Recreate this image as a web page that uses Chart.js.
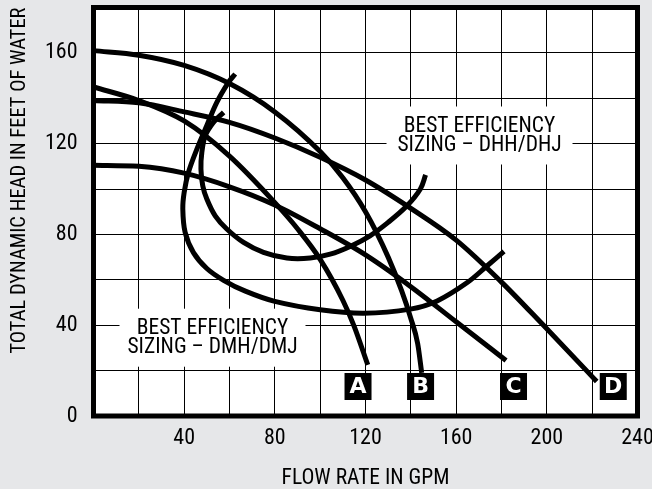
<!DOCTYPE html>
<html><head><meta charset="utf-8">
<script src="https://cdn.jsdelivr.net/npm/chart.js@4"></script>
<style>html,body{margin:0;padding:0;background:#e6e7e9;overflow:hidden;}</style>
</head><body>
<canvas id="c" width="652" height="489"></canvas>
<script>
const FONT = '"Roboto Condensed", "DejaVu Sans Condensed", sans-serif';

// Pump curves (flow in GPM, head in feet)
const flowA = [0, 20, 40, 60, 80, 90, 100, 110, 115, 121];
const headA = [145, 139, 130, 114.5, 94, 82.5, 69, 51, 39.5, 22.5];
const flowB = [0, 20, 40, 60, 80, 100, 110, 120, 130, 136, 140, 143, 144.8];
const headB = [161, 159, 154.5, 146.5, 134, 116.5, 105, 90, 70, 55, 43, 32, 19];
const flowC = [0, 20, 40, 60, 80, 100, 120, 140, 160, 182];
const headC = [110.5, 110, 107, 101, 93, 82.5, 71, 57, 41.5, 24.5];
const flowD = [0, 20, 40, 60, 80, 100, 120, 140, 160, 180, 198, 217.5, 222];
const headD = [139, 138, 134, 129.4, 122.5, 114, 104, 91.5, 77.5, 59, 40.5, 20, 15.2];

// Best efficiency sizing envelopes
const flowDMH = [62.5, 59.6, 54.4, 50, 45.6, 41.9, 40, 39.4, 40.4, 44.1, 50, 57.4, 67, 80, 100, 119.2, 139.8, 151.6, 164.9, 173.7, 181.1];
const headDMH = [150.7, 147.1, 138.2, 128, 117.6, 107.4, 98.5, 91.2, 81, 72, 65, 59.8, 55, 50.5, 46.8, 45.3, 47.1, 50.7, 58.8, 66.2, 72.5];
const flowDHH = [57.4, 52.9, 49.3, 47.8, 47.4, 48.2, 50, 53.7, 58.8, 66.2, 75, 85.3, 95.6, 104.4, 113.2, 122, 130, 138.3, 144.2, 146.5];
const headDHH = [133.8, 129.4, 123.5, 116.2, 108.8, 101.5, 95.6, 88.2, 82.4, 76.5, 72.1, 69.6, 69.6, 71.3, 74.7, 79.4, 85.3, 92.6, 100, 106.2];

// Curve tags
const tagText = ['A', 'B', 'C', 'D'];
const tagFlow = [116.7, 144.3, 185.3, 229.3];
const tagHead = [13, 13, 13, 13];

// Annotation notes
const noteLines = [['BEST EFFICIENCY', 'SIZING – DMH/DMJ'], ['BEST EFFICIENCY', 'SIZING – DHH/DHJ']];
const noteFlow = [52.5, 170.3];
const noteHead = [34.5, 123.6];

// Axes
const xMin = 0, xMax = 240, yMin = 0, yMax = 180, gridStep = 20, labelStep = 40;

const pts = (xs, ys) => xs.map((x, i) => ({x, y: ys[i]}));

function curve(xs, ys, mono) {
  return {
    data: pts(xs, ys), showLine: true, borderColor: '#000', borderWidth: 5,
    pointRadius: 0, fill: false, tension: 0.35, borderCapStyle: 'butt', borderJoinStyle: 'round',
    cubicInterpolationMode: mono ? 'monotone' : 'default'
  };
}

const decor = {
  id: 'decor',
  beforeDraw(chart) {
    const {ctx, chartArea: a} = chart;
    ctx.save();
    ctx.fillStyle = '#e6e7e9';
    ctx.fillRect(0, 0, chart.width, chart.height);
    ctx.fillStyle = '#fff';
    ctx.fillRect(a.left, a.top, a.right - a.left, a.bottom - a.top);
    ctx.restore();
  },
  beforeDatasetsDraw(chart) {
    const {ctx, scales: {x, y}} = chart;
    ctx.save();
    noteLines.forEach((lines, i) => {
      const cx = x.getPixelForValue(noteFlow[i]);
      const cy = y.getPixelForValue(noteHead[i]);
      ctx.fillStyle = '#fff';
      ctx.fillRect(cx - 93, cy - 29, 186, 58);
      ctx.fillStyle = '#000';
      ctx.font = '21.5px ' + FONT;
      ctx.textAlign = 'center';
      ctx.textBaseline = 'middle';
      ctx.fillText(lines[0], cx, cy - 9);
      ctx.fillText(lines[1], cx, cy + 10);
    });
    ctx.restore();
  },
  afterDatasetsDraw(chart) {
    const {ctx, chartArea: a, scales: {x, y}} = chart;
    ctx.save();
    ctx.strokeStyle = '#000';
    ctx.lineWidth = 5;
    ctx.strokeRect(a.left, a.top, a.right - a.left, a.bottom - a.top);
    tagText.forEach((t, i) => {
      const cx = x.getPixelForValue(tagFlow[i]);
      const cy = y.getPixelForValue(tagHead[i]);
      ctx.fillStyle = '#000';
      ctx.fillRect(cx - 13.5, cy - 13.5, 27, 27);
      ctx.fillStyle = '#fff';
      ctx.font = 'bold 22px "DejaVu Sans", sans-serif';
      ctx.textAlign = 'center';
      ctx.textBaseline = 'middle';
      ctx.fillText(t, cx, cy + 1);
    });
    ctx.restore();
  }
};

new Chart(document.getElementById('c'), {
  type: 'scatter',
  data: {
    datasets: [
      curve(flowA, headA, true),
      curve(flowB, headB, true),
      curve(flowC, headC, true),
      curve(flowD, headD, true),
      curve(flowDMH, headDMH, false),
      curve(flowDHH, headDHH, false)
    ]
  },
  options: {
    responsive: false,
    animation: false,
    devicePixelRatio: 1,
    layout: {padding: {left: 0, right: 14.5, top: 7.5, bottom: 0}},
    plugins: {legend: {display: false}, tooltip: {enabled: false}},
    scales: {
      x: {
        type: 'linear', min: xMin, max: xMax,
        border: {display: false},
        grid: {color: '#000', lineWidth: 1, drawTicks: false},
        ticks: {
          stepSize: gridStep, autoSkip: false, maxRotation: 0, padding: 9, color: '#000',
          font: {family: FONT, size: 22},
          callback: v => (v % labelStep === 0 && v > xMin) ? String(v) : ''
        },
        title: {display: true, text: 'FLOW RATE IN GPM', color: '#000',
          font: {family: FONT, size: 21.5, lineHeight: 1.0}, padding: {top: 0, bottom: 0}},
        afterFit(s) { s.height = 73; s.paddingLeft = 0; s.paddingRight = 0; }
      },
      y: {
        type: 'linear', min: yMin, max: yMax,
        border: {display: false},
        grid: {color: '#000', lineWidth: 1, drawTicks: false},
        ticks: {
          stepSize: gridStep, autoSkip: false, padding: 16, color: '#000',
          font: {family: FONT, size: 22},
          callback: v => (v % labelStep === 0 && v < yMax) ? String(v) : ''
        },
        title: {display: true, text: 'TOTAL DYNAMIC HEAD IN FEET OF WATER', color: '#000', align: 'end',
          font: {family: FONT, size: 20.5}, padding: {top: 8, bottom: 0}},
        afterFit(s) { s.width = 93.5; s.paddingTop = 0; s.paddingBottom = 0; }
      }
    }
  },
  plugins: [decor]
});
</script>
</body></html>
